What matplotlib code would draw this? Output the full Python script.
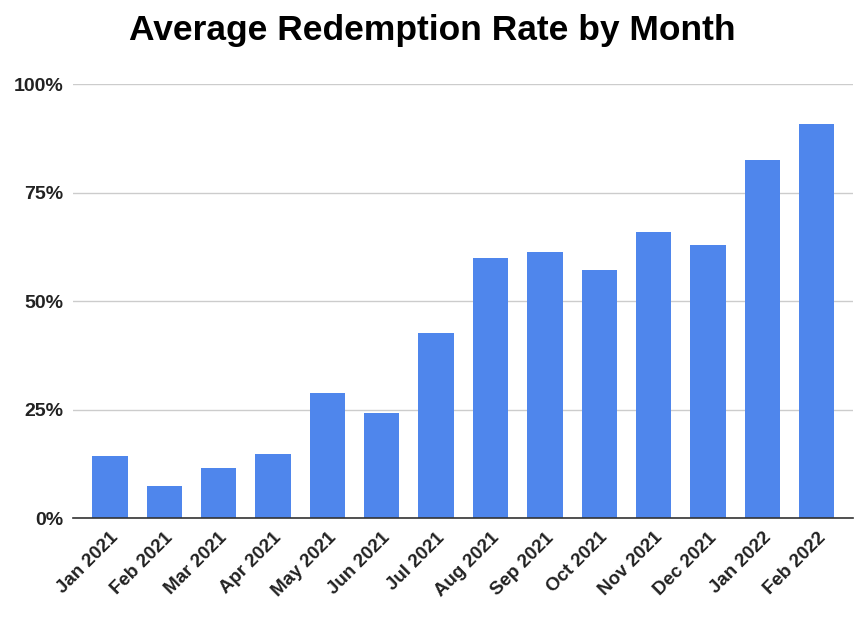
import matplotlib
matplotlib.use("Agg")
import matplotlib.pyplot as plt
import numpy as np

months = ["Jan 2021", "Feb 2021", "Mar 2021", "Apr 2021", "May 2021", "Jun 2021",
          "Jul 2021", "Aug 2021", "Sep 2021", "Oct 2021", "Nov 2021", "Dec 2021",
          "Jan 2022", "Feb 2022"]
redemption = [0.143, 0.074, 0.115, 0.147, 0.288, 0.242, 0.426, 0.599, 0.613, 0.571,
              0.659, 0.629, 0.825, 0.908]
y_ticks = [0, 0.25, 0.5, 0.75, 1.0]
y_labels = ["0%", "25%", "50%", "75%", "100%"]

plt.rcParams["font.family"] = ["Liberation Sans", "DejaVu Sans"]

fig = plt.figure(figsize=(8.68, 6.28), dpi=100)
ax = fig.add_axes([0.084, 0.175, 0.899, 0.691])

x = np.arange(len(months))
ax.bar(x, redemption, width=0.65, color="#4f86ec", zorder=3)

ax.set_xlim(-0.68, len(months) - 1 + 0.67)
ax.set_ylim(0, 1.0)
ax.set_yticks(y_ticks)
ax.set_yticklabels(y_labels, fontsize=14, fontweight="bold", color="#222222")
ax.set_xticks(x)
ax.set_xticklabels(months, rotation=45, ha="right", rotation_mode="anchor",
                   fontsize=13.5, fontweight="bold", color="#222222")
ax.tick_params(axis="both", length=0)
ax.tick_params(axis="y", pad=7)
ax.tick_params(axis="x", pad=8)

ax.grid(axis="y", color="#cccccc", linewidth=1, zorder=0)
ax.set_axisbelow(True)
for side in ["top", "right", "left"]:
    ax.spines[side].set_visible(False)
ax.spines["bottom"].set_color("#333333")
ax.spines["bottom"].set_linewidth(1.2)
ax.spines["bottom"].set_zorder(4)

fig.text(0.498, 0.952, "Average Redemption Rate by Month", ha="center", va="center",
         fontsize=25.5, fontweight="bold", color="#000000")

fig.savefig("out.png", dpi=100)
